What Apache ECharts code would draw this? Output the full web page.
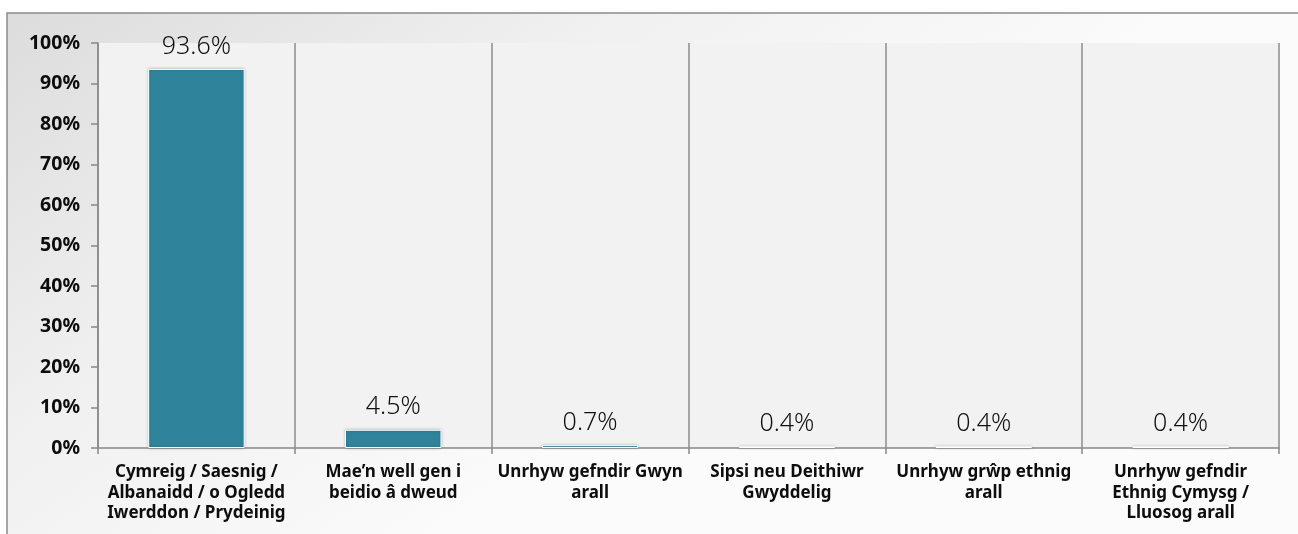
<!DOCTYPE html>
<html>
<head>
<meta charset="utf-8">
<script src="https://cdn.jsdelivr.net/npm/echarts@6/dist/echarts.min.js"></script>
<style>
  html, body { margin: 0; padding: 0; background: #fff; }
  #chart { width: 1298px; height: 534px; }
</style>
</head>
<body>
<div id="chart"></div>
<script>
// categories (line breaks follow the original wrapping)
const categories = [
  'Cymreig / Saesnig /\nAlbanaidd / o Ogledd\nIwerddon / Prydeinig',
  'Mae\u2019n well gen i\nbeidio \u00e2 dweud',
  'Unrhyw gefndir Gwyn\narall',
  'Sipsi neu Deithiwr\nGwyddelig',
  'Unrhyw gr\u0175p ethnig\narall',
  'Unrhyw gefndir\nEthnig Cymysg /\nLluosog arall'
]
const values = [93.6, 4.5, 0.7, 0.4, 0.4, 0.4]

const chart = echarts.init(document.getElementById('chart'))

const option = {
  animation: false,
  textStyle: { fontFamily: 'Noto Sans' },
  graphic: [
    {
      type: 'rect',
      z: -10,
      shape: { x: 7, y: 13, width: 1320, height: 560 },
      style: {
        fill: new echarts.graphic.LinearGradient(0, 0, 0.3, 1, [
          { offset: 0, color: '#dcdcdc' },
          { offset: 0.5, color: '#f0f0f0' },
          { offset: 1, color: '#fbfbfb' }
        ]),
        stroke: '#8a8a8a',
        lineWidth: 1.5
      }
    }
  ],
  grid: {
    left: 98,
    right: 19,
    top: 43,
    bottom: 86,
    show: true,
    backgroundColor: '#f2f2f2',
    borderWidth: 0
  },
  xAxis: {
    type: 'category',
    data: categories,
    axisLine: { lineStyle: { color: '#888', width: 1.5 } },
    axisTick: { show: true, length: 6, interval: 0, lineStyle: { color: '#888', width: 1.5 } },
    splitLine: { show: true, interval: 0, lineStyle: { color: '#8c8c8c', width: 1.5 } },
    axisLabel: {
      interval: 0,
      margin: 14,
      color: '#0d0d0d',
      fontWeight: 'bold',
      fontSize: 17,
      lineHeight: 20.5,
      align: 'center'
    }
  },
  yAxis: {
    type: 'value',
    min: 0,
    max: 100,
    interval: 10,
    axisLine: { show: true, lineStyle: { color: '#888', width: 1.5 } },
    axisTick: { show: true, length: 7, lineStyle: { color: '#888', width: 1.5 } },
    splitLine: { show: false },
    axisLabel: {
      formatter: '{value}%',
      margin: 18,
      color: '#0d0d0d',
      fontWeight: 'bold',
      fontSize: 19.5
    }
  },
  series: [
    {
      type: 'bar',
      data: values,
      barWidth: '49%',
      itemStyle: {
        color: '#2f849b',
        borderColor: '#ffffff',
        borderWidth: 1,
        shadowColor: 'rgba(0,0,0,0.25)',
        shadowBlur: 3
      },
      label: {
        show: true,
        position: 'top',
        distance: 10,
        formatter: p => p.value.toFixed(1) + '%',
        fontSize: 25,
        fontWeight: 300,
        color: '#111'
      }
    }
  ]
}

chart.setOption(option)
window.addEventListener('resize', () => chart.resize())
</script>
</body>
</html>
